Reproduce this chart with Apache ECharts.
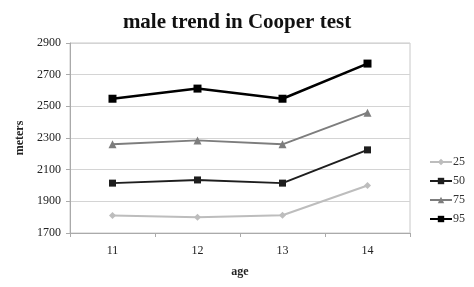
<!DOCTYPE html>
<html>
<head>
<meta charset="utf-8">
<script src="https://cdn.jsdelivr.net/npm/echarts@6/dist/echarts.min.js"></script>
<style>
  html, body { margin: 0; padding: 0; background: #fff; }
  #main { width: 474px; height: 287px; }
</style>
</head>
<body>
<div id="main"></div>
<script>
// age groups on the x axis
const ages = ['11', '12', '13', '14'];
// percentile series (meters)
const p25 = [1810, 1800, 1812, 2000];
const p50 = [2015, 2035, 2015, 2225];
const p75 = [2260, 2285, 2260, 2460];
const p95 = [2548, 2612, 2548, 2770];
const yTicks = [1700, 1900, 2100, 2300, 2500, 2700, 2900];

const serif = '"Liberation Serif", "DejaVu Serif", serif';

const chart = echarts.init(document.getElementById('main'));

const mkSeries = (name, data, color, symbol, size, width) => ({
    name: name,
    type: 'line',
    data: data,
    symbol: symbol,
    symbolSize: size,
    lineStyle: { color: color, width: width },
    itemStyle: { color: color },
    emphasis: { disabled: true },
    z: 3
});

const option = {
    animation: false,
    title: {
        text: 'male trend in Cooper test',
        left: 'center',
        top: 7,
        textStyle: { fontFamily: serif, fontSize: 21, fontWeight: 'bold', color: '#111' }
    },
    grid: {
        left: 70, right: 64, top: 43, bottom: 54,
        show: true, borderColor: '#c8c8c8', borderWidth: 1
    },
    legend: {
        orient: 'vertical',
        left: 424,
        top: 151,
        itemGap: 7,
        itemWidth: 22,
        itemHeight: 8,
        data: ['25', '50', '75', '95'],
        textStyle: { fontFamily: serif, fontSize: 12, color: '#333', padding: [0, 0, 0, -4] }
    },
    xAxis: {
        type: 'category',
        data: ages,
        boundaryGap: true,
        name: 'age',
        nameLocation: 'middle',
        nameGap: 33,
        nameTextStyle: { fontFamily: serif, fontSize: 12, fontWeight: 'bold', color: '#222' },
        axisLine: { lineStyle: { color: '#aaa' } },
        axisTick: { show: true, length: 4, lineStyle: { color: '#aaa' } },
        axisLabel: { fontFamily: serif, fontSize: 12, color: '#222', margin: 12 }
    },
    yAxis: {
        type: 'value',
        min: yTicks[0],
        max: yTicks[yTicks.length - 1],
        interval: 200,
        name: 'meters',
        nameLocation: 'middle',
        nameGap: 42,
        nameTextStyle: { fontFamily: serif, fontSize: 12, fontWeight: 'bold', color: '#222' },
        axisLine: { show: true, lineStyle: { color: '#aaa' } },
        axisTick: { show: true, length: 4, lineStyle: { color: '#aaa' } },
        axisLabel: { fontFamily: serif, fontSize: 12, color: '#222', margin: 9, formatter: v => String(v) },
        splitLine: { lineStyle: { color: '#d4d4d4' } }
    },
    series: [
        mkSeries('25', p25, '#bdbdbd', 'diamond', 7, 2),
        mkSeries('50', p50, '#1e1e1e', 'rect', 7, 2),
        mkSeries('75', p75, '#7d7d7d', 'triangle', 8, 2),
        mkSeries('95', p95, '#000000', 'rect', 8, 2.5)
    ]
};

chart.setOption(option);
</script>
</body>
</html>
